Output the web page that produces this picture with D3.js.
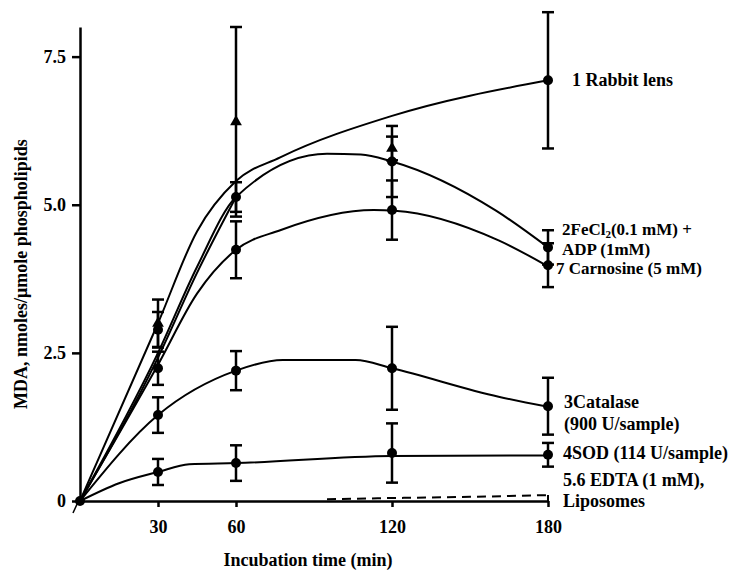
<!DOCTYPE html>
<html>
<head>
<meta charset="utf-8">
<script src="https://cdn.jsdelivr.net/npm/d3@7"></script>
<style>
  body { margin: 0; background: #fff; }
  text { font-family: "Liberation Serif", "Times New Roman", serif; font-weight: bold; fill: #000; }
</style>
</head>
<body>
<svg width="738" height="572"></svg>
<script>
// x ticks and y ticks
const xTicks = [30, 60, 120, 180];
const yTicks = [0, 2.5, 5.0, 7.5];

// fitted curves [time, MDA]
const lineRabbit = [[0, 0], [30, 3.0], [45, 4.55], [60, 5.4], [77, 5.8], [120, 6.5], [180, 7.1]];
const lineFeCl = [[0, 0], [30, 2.5], [45, 3.95], [60, 5.13], [95, 5.86], [108, 5.85], [120, 5.73], [160, 4.9], [180, 4.28]];
const lineFeClB = [[0, 0], [30, 2.42], [45, 3.85], [60, 5.13]];
const lineCarnosine = [[0, 0], [30, 2.3], [45, 3.5], [60, 4.24], [77, 4.57], [113, 4.91], [121, 4.9], [161, 4.4], [180, 3.96]];
const lineCatalase = [[0, 0], [30, 1.45], [60, 2.2], [78, 2.38], [106, 2.38], [120, 2.24], [161, 1.76], [180, 1.59]];
const lineSOD = [[0, 0], [15, 0.3], [30, 0.49], [42, 0.62], [60, 0.64], [120, 0.76], [180, 0.77]];
const lineEDTA = [[95, 0.03], [120, 0.05], [150, 0.07], [180, 0.1]];

// measured points [time, mean, error]
const ptsOrigin = [[0, 0, 0]];
const ptsRabbit = [[180, 7.1, 1.15]];
const ptsTriangle = [[30, 3.0, 0.4], [60, 6.4, 1.6], [120, 5.95, 0.2]];
const ptsFeCl = [[30, 2.89, 0.3], [60, 5.13, 0.25], [120, 5.73, 0.6], [180, 4.28, 0.29]];
const ptsCarnosine = [[30, 2.24, 0.28], [60, 4.24, 0.48], [120, 4.91, 0.5], [180, 3.98, 0.37]];
const ptsCatalase = [[30, 1.45, 0.3], [60, 2.2, 0.33], [120, 2.24, 0.7], [180, 1.6, 0.48]];
const ptsSOD = [[30, 0.49, 0.22], [60, 0.64, 0.3], [120, 0.81, 0.5], [180, 0.78, 0.2]];

const svg = d3.select('svg');

const x = d3.scaleLinear().domain([0, 180]).range([80, 548]);
const y = d3.scaleLinear().domain([0, 8]).range([501, 27]);

// axes
svg.append('g')
  .attr('transform', 'translate(0,501)')
  .call(d3.axisBottom(x).tickValues(xTicks).tickSize(6).tickPadding(13).tickSizeOuter(0))
  .call(g => g.select('.domain').attr('stroke-width', 2.5))
  .call(g => g.selectAll('.tick line').attr('stroke-width', 2.5))
  .call(g => g.selectAll('.tick text').attr('font-size', 18).attr('font-family', null));

svg.append('g')
  .attr('transform', 'translate(80,0)')
  .call(d3.axisLeft(y).tickValues(yTicks).tickFormat(d => d === 0 ? '0' : d3.format('.1f')(d)).tickSize(8).tickPadding(6).tickSizeOuter(0))
  .call(g => g.select('.domain').attr('stroke-width', 2.5))
  .call(g => g.selectAll('.tick line').attr('stroke-width', 2.5))
  .call(g => g.selectAll('.tick text').attr('font-size', 18).attr('font-family', null));

// axis break mark at origin
svg.append('line')
  .attr('x1', x(0) - 2).attr('y1', y(0) + 1)
  .attr('x2', x(0) - 7).attr('y2', y(0) + 12)
  .attr('stroke', '#000').attr('stroke-width', 1.5);

// curves
const line = d3.line().x(d => x(d[0])).y(d => y(d[1])).curve(d3.curveMonotoneX);
[lineRabbit, lineFeCl, lineFeClB, lineCarnosine, lineCatalase, lineSOD].forEach(data => {
  svg.append('path').datum(data)
    .attr('d', line)
    .attr('fill', 'none')
    .attr('stroke', '#000')
    .attr('stroke-width', 2);
});

svg.append('path').datum(lineEDTA)
  .attr('d', line)
  .attr('fill', 'none')
  .attr('stroke', '#000')
  .attr('stroke-width', 2)
  .attr('stroke-dasharray', '9,6');
svg.append('line')
  .attr('x1', x(180)).attr('x2', x(180))
  .attr('y1', y(0.1)).attr('y2', y(0))
  .attr('stroke', '#000').attr('stroke-width', 2);

// error bars
function errorBars(data) {
  const g = svg.append('g').attr('stroke', '#000').attr('stroke-width', 2.5);
  data.filter(d => d[2] > 0).forEach(d => {
    const cx = x(d[0]);
    g.append('line').attr('x1', cx).attr('x2', cx).attr('y1', y(d[1] + d[2])).attr('y2', y(d[1] - d[2]));
    g.append('line').attr('x1', cx - 6).attr('x2', cx + 6).attr('y1', y(d[1] + d[2])).attr('y2', y(d[1] + d[2]));
    g.append('line').attr('x1', cx - 6).attr('x2', cx + 6).attr('y1', y(d[1] - d[2])).attr('y2', y(d[1] - d[2]));
  });
}
[ptsRabbit, ptsTriangle, ptsFeCl, ptsCarnosine, ptsCatalase, ptsSOD].forEach(errorBars);

// markers
[ptsOrigin, ptsRabbit, ptsFeCl, ptsCarnosine, ptsCatalase, ptsSOD].forEach(data => {
  svg.append('g').selectAll('circle')
    .data(data)
    .enter()
    .append('circle')
    .attr('cx', d => x(d[0]))
    .attr('cy', d => y(d[1]))
    .attr('r', 5)
    .attr('fill', '#000');
});

svg.append('g').selectAll('path')
  .data(ptsTriangle)
  .enter()
  .append('path')
  .attr('d', d3.symbol().type(d3.symbolTriangle).size(60))
  .attr('transform', d => `translate(${x(d[0])},${y(d[1])})`)
  .attr('fill', '#000');

// series labels
function label(txt, lx, ly, fs) {
  return svg.append('text').attr('x', lx).attr('y', ly).attr('font-size', fs || 18).text(txt);
}
label('1 Rabbit lens', 572, 86);
const fe = label('', 562, 235, 17);
fe.append('tspan').text('2FeCl');
fe.append('tspan').attr('font-size', 11).attr('dy', 3).text('2');
fe.append('tspan').attr('dy', -3).text('(0.1 mM) +');
label('ADP (1mM)', 562, 255, 17);
label('7 Carnosine (5 mM)', 556, 274, 17);
label('3Catalase', 564, 408);
label('(900 U/sample)', 564, 430);
label('4SOD (114 U/sample)', 563, 459);
label('5.6 EDTA (1 mM),', 563, 486);
label('Liposomes', 563, 507);

// axis titles
svg.append('text')
  .attr('x', 308).attr('y', 566)
  .attr('text-anchor', 'middle')
  .attr('font-size', 18)
  .text('Incubation time (min)');

svg.append('text')
  .attr('transform', 'translate(27,274) rotate(-90)')
  .attr('text-anchor', 'middle')
  .attr('font-size', 18)
  .text('MDA, nmoles/\u03bcmole phospholipids');
</script>
</body>
</html>
